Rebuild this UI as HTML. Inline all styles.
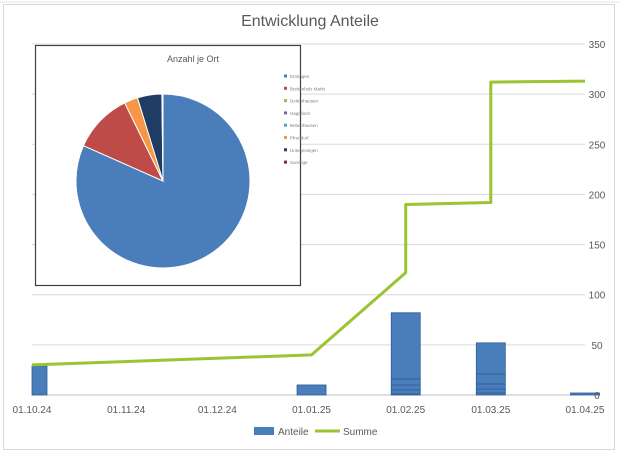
<!DOCTYPE html>
<html><head><meta charset="utf-8"><style>
html,body{margin:0;padding:0;background:#fff;}
svg{display:block;font-family:"Liberation Sans",sans-serif;}
</style></head><body>
<svg id="c" width="620" height="450" viewBox="0 0 620 450">
<rect x="0" y="0" width="620" height="450" fill="#fff"/>
<line x1="0" y1="2" x2="620" y2="2" stroke="#e4e4e4"/>
<rect x="3.5" y="4.5" width="611" height="445" fill="#fff" stroke="#d9d9d9"/>
<text x="310" y="26" text-anchor="middle" font-size="16" fill="#595959">Entwicklung Anteile</text>
<g id="grid"></g><g id="bars"></g><g id="line"></g><g id="xt"></g><g id="yt"></g>
<g id="inset">
<rect x="35.5" y="45.5" width="265" height="240" fill="#fff" stroke="#404040" stroke-width="1.2"/>
<text x="193" y="62" text-anchor="middle" font-size="9" fill="#595959">Anzahl je Ort</text>
<g id="pie"></g><g id="pleg"></g>
</g>
<g>
<rect x="254" y="427" width="20" height="8" fill="#4a7ebb"/>
<text x="278" y="435" font-size="10" fill="#595959">Anteile</text>
<line x1="315" y1="431" x2="340" y2="431" stroke="#9ac531" stroke-width="3"/>
<text x="343" y="435" font-size="10" fill="#595959">Summe</text>
</g>
</svg>
<script>
const xTickLabels=["01.10.24","01.11.24","01.12.24","01.01.25","01.02.25","01.03.25","01.04.25"];
const xTickDays=[0,31,61,92,123,151,182];
const yTicks=[0,50,100,150,200,250,300,350];
const barDays=[0,92,123,151,182];
const barSegments=[[29],[10],[1,4,5,6,66],[2,4,5,10,31],[2]];
const lineDays=[0,92,123,123,151,151,182];
const summe=[30,40,122,190,192,312,313];
const pieLabels=["Entringen","Breitenholz Markt","Dettenhausen","Hagelloch","Bebenhausen","Pfrondorf","Unterjesingen","Sonstige"];
const pieValues=[81,11,0,0,0,2.5,4.5,0.2];
const pieColors=["#4a7ebb","#be4b48","#98b954","#7d60a0","#46aac5","#f79646","#1f3d64","#772c2a"];
const NS="http://www.w3.org/2000/svg";
function el(t,a,p){const e=document.createElementNS(NS,t);for(const k in a)e.setAttribute(k,a[k]);document.getElementById(p).appendChild(e);return e;}
const x=d=>32+d*(553/182);
const y=v=>395-v*(351/350);
yTicks.forEach(v=>{
 const g=el('line',{x1:32,x2:585,y1:y(v),y2:y(v),stroke:v===0?'#bfbfbf':'#d9d9d9'},'grid');
 
 
 const t=el('text',{x:597,y:y(v)+4,'font-size':10,fill:'#595959','text-anchor':'middle'},'yt');t.textContent=v;
 
 
});
xTickLabels.forEach((l,i)=>{
 const t=el('text',{x:x(xTickDays[i]),y:413,'font-size':10,fill:'#595959','text-anchor':'middle'},'xt');t.textContent=l;
 
 
});
barDays.forEach((d,i)=>{
 let cx=x(d),w=29,x0=cx-w/2;
 if(i===0){x0=cx;w=15;}
 let acc=0;
 barSegments[i].forEach(s=>{
  const r=el('rect',{x:x0,y:y(acc+s),width:w,height:Math.max(0.5,y(acc)-y(acc+s)),fill:'#4a7ebb',stroke:'#2c5d96','stroke-width':0.8},'bars');
  
  
  acc+=s;
 });
});
const pl=el('polyline',{points:lineDays.map((d,i)=>x(d)+','+y(summe[i])).join(' '),fill:'none',stroke:'#9ac531','stroke-width':3,'stroke-linejoin':'round'},'line');


const tot=pieValues.reduce((a,b)=>a+b,0);let ang=0;const cx=163,cy=181,R=87;
pieValues.forEach((v,i)=>{
 if(v<=0)return;
 const a0=ang,a1=ang+v/tot*2*Math.PI;ang=a1;
 const p=(a)=>[cx+R*Math.sin(a),cy-R*Math.cos(a)];
 const [x0,y0]=p(a0),[x1,y1]=p(a1);
 const s=el('path',{d:`M${cx},${cy}L${x0},${y0}A${R},${R} 0 ${a1-a0>Math.PI?1:0} 1 ${x1},${y1}Z`,fill:pieColors[i],stroke:'#fff','stroke-width':1},'pie');
 
 
});
pieLabels.forEach((l,i)=>{
 const yy=76+i*12.3;
 const d=el('rect',{x:284,y:yy-1.5,width:3,height:3,fill:pieColors[i]},'pleg');
 
 
 const t=el('text',{x:290,y:yy+2,'font-size':4.5,fill:'#808080'},'pleg');t.textContent=l;
 
 
});
</script>
</body></html>
